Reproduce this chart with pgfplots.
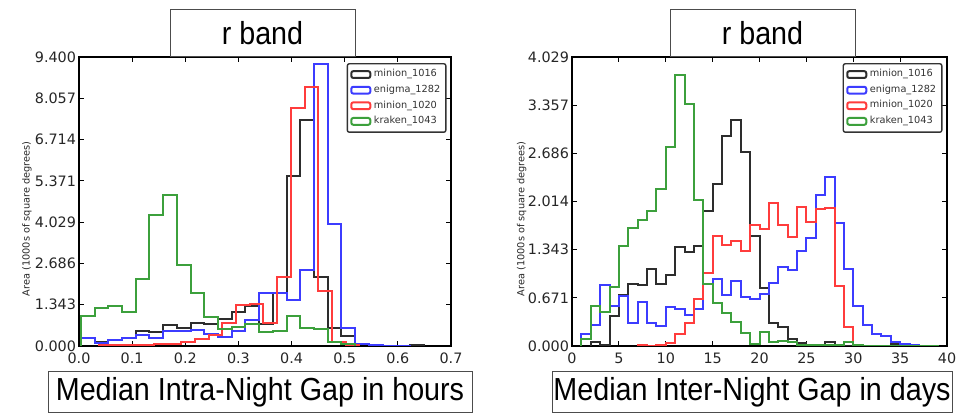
\documentclass[border=0pt]{standalone}
\usepackage{pgfplots}
\pgfplotsset{compat=1.18}
\usepackage{fontspec}
\setmainfont{DejaVu Sans}
\newfontfamily\boxfont{Liberation Sans}[FakeStretch=0.9]

\definecolor{hblack}{RGB}{45,45,45}
\definecolor{hblue}{RGB}{60,60,255}
\definecolor{hred}{RGB}{255,60,60}
\definecolor{hgreen}{RGB}{60,160,60}

\pgfplotsset{
  mpl/.style={
    scale only axis, anchor=south west,
    axis line style={line width=0.8bp},
    tick style={line width=0.6bp, black},
    major tick length=2.5bp,
    tick label style={font=\fontsize{7.2}{8.2}\selectfont, text=black!85},
    yticklabel style={xshift=2bp},
    label style={font=\fontsize{4.9}{5.8}\selectfont, text=black!85},
    /pgf/number format/assume math mode=true,
    ymin=0,
    legend style={at={(0.988,0.979)}, anchor=north east, draw=black!80,
      line width=0.7bp, rounded corners=1bp, inner sep=1.5bp,
      font=\fontsize{4.9}{5.7}\selectfont, text=black!80,
      nodes={inner sep=1.3bp}},
    legend cell align=left,
    legend image code/.code={\draw[#1] (0bp,-1.7bp) rectangle (9.5bp,1.7bp);},
    every axis plot/.append style={const plot, line width=1bp, mark=none},
  },
}

\begin{document}
\begin{tikzpicture}
\useasboundingbox (0,0) rectangle (482.5bp,206.5bp);

% ---- left: intra-night gap ----
\begin{axis}[mpl,
  at={(39.5bp,33.5bp)}, width=186bp, height=144.5bp,
  xmin=0, xmax=0.7, ymax=9.4,
  xtick={0,0.1,0.2,0.3,0.4,0.5,0.6,0.7},
  xticklabels={0.0,0.1,0.2,0.3,0.4,0.5,0.6,0.7},
  ytick={0,1.342857,2.685714,4.028571,5.371429,6.714286,8.057143,9.4},
  yticklabels={0.000,1.343,2.686,4.029,5.371,6.714,8.057,9.400},
  ylabel={Area (1000s of square degrees)},
  ylabel style={at={(axis description cs:-0.14,0.44)}, anchor=center},
]
\addplot[hblack] coordinates {
 (0.0035,0) (0.0035,0.27) (0.0293,0.14) (0.0551,0.19) (0.0809,0.27)
 (0.1067,0.49) (0.1325,0.45) (0.1583,0.68) (0.1841,0.60) (0.2099,0.76)
 (0.2357,0.73) (0.2615,0.87) (0.2873,1.12) (0.3131,1.31) (0.3389,0.73)
 (0.3647,1.71) (0.3905,5.52) (0.4163,7.35) (0.4421,2.25) (0.4679,0.58)
 (0.4937,0.33) (0.5195,0.05) (0.5453,0.01) (0.5711,0.01) (0.5969,0.01)
 (0.6227,0.03) (0.6485,0.03) (0.6485,0)};
\addlegendentry{minion\_1016}
\addplot[hblue] coordinates {
 (0.0035,0) (0.0035,0.25) (0.0293,0.11) (0.0551,0.20) (0.0809,0.27)
 (0.1067,0.35) (0.1325,0.27) (0.1583,0.49) (0.1841,0.49) (0.2099,0.52)
 (0.2357,0.38) (0.2615,0.30) (0.2873,0.49) (0.3131,0.85) (0.3389,1.71)
 (0.3647,1.71) (0.3905,1.50) (0.4163,2.48) (0.4421,9.18) (0.4679,3.98)
 (0.4937,0.58) (0.5195,0.08) (0.5453,0.03) (0.5711,0.01) (0.5969,0.01)
 (0.6227,0.01) (0.6227,0)};
\addlegendentry{enigma\_1282}
\addplot[hred] coordinates {
 (0.0375,0) (0.0375,0.03) (0.0633,0.03) (0.0891,0.03) (0.1149,0.04)
 (0.1407,0.06) (0.1665,0.07) (0.1923,0.12) (0.2181,0.22) (0.2439,0.35)
 (0.2697,0.75) (0.2955,1.34) (0.3213,1.36) (0.3471,0.76) (0.3729,2.25)
 (0.3987,7.73) (0.4245,8.41) (0.4503,1.78) (0.4761,0.14) (0.5019,0.02)
 (0.5277,0.02) (0.5277,0)};
\addlegendentry{minion\_1020}
\addplot[hgreen] coordinates {
 (0.0035,0) (0.0035,0.96) (0.0293,1.23) (0.0551,1.29) (0.0809,1.09)
 (0.1067,2.18) (0.1325,4.27) (0.1583,4.90) (0.1841,2.65) (0.2099,1.71)
 (0.2357,0.93) (0.2615,0.54) (0.2873,0.62) (0.3131,0.71) (0.3389,0.47)
 (0.3647,0.49) (0.3905,0.96) (0.4163,0.60) (0.4421,0.54) (0.4679,0.14)
 (0.4937,0.05) (0.5195,0.05) (0.5195,0)};
\addlegendentry{kraken\_1043}
\end{axis}

% ---- right: inter-night gap ----
\begin{axis}[mpl,
  at={(286bp,33.5bp)}, width=187.5bp, height=144.5bp,
  xmin=0, xmax=40, ymax=4.02857,
  xtick={0,5,10,15,20,25,30,35,40},
  ytick={0,0.67143,1.34286,2.01429,2.68571,3.35714,4.02857},
  yticklabels={0.000,0.671,1.343,2.014,2.686,3.357,4.029},
  ylabel={Area (1000s of square degrees)},
  ylabel style={at={(axis description cs:-0.134,0.44)}, anchor=center},
]
\addplot[hblack] coordinates {
 (2,0) (2,0.05) (3,0.02) (4,0.42) (5,0.71) (6,0.87) (7,0.85) (8,1.07)
 (9,0.87) (10,0.99) (11,1.38) (12,1.31) (13,1.40) (14,1.88) (15,2.26)
 (16,2.93) (17,3.15) (18,2.70) (19,1.53) (20,0.81) (21,0.32) (22,0.26)
 (23,0.10) (24,0.04) (25,0.02) (26,0.01) (27,0.05) (28,0.01) (29,0.005)
 (30,0.005) (31,0.005) (32,0.005) (33,0.005) (34,0.03) (35,0.03) (35,0)};
\addlegendentry{minion\_1016}
\addplot[hblue] coordinates {
 (1,0) (1,0.17) (2,0.29) (3,0.85) (4,0.56) (5,0.69) (6,0.32) (7,0.62)
 (8,0.32) (9,0.28) (10,0.55) (11,0.51) (12,0.43) (13,0.52) (14,0.87)
 (15,0.94) (16,0.71) (17,0.91) (18,0.68) (19,0.65) (20,0.72) (21,0.88)
 (22,1.10) (23,1.06) (24,1.33) (25,1.51) (26,2.10) (27,2.35) (28,1.71)
 (29,1.07) (30,0.56) (31,0.29) (32,0.17) (33,0.14) (34,0.05) (35,0.03)
 (36,0.01) (37,0.01) (37,0)};
\addlegendentry{enigma\_1282}
\addplot[hred] coordinates {
 (7,0) (7,0.02) (8,0.005) (9,0.01) (10,0.04) (11,0.17) (12,0.32) (13,0.66)
 (14,1.02) (15,1.53) (16,1.41) (17,1.47) (18,1.33) (19,1.68) (20,1.63)
 (21,2.00) (22,1.69) (23,1.52) (24,1.94) (25,1.73) (26,1.91) (27,1.93)
 (28,0.84) (29,0.27) (30,0.02) (31,0.02) (31,0)};
\addlegendentry{minion\_1020}
\addplot[hgreen] coordinates {
 (1,0) (1,0.10) (2,0.56) (3,0.47) (4,0.82) (5,1.40) (6,1.64) (7,1.76)
 (8,1.88) (9,2.19) (10,2.77) (11,3.78) (12,3.37) (13,2.03) (14,0.87)
 (15,0.60) (16,0.46) (17,0.33) (18,0.18) (19,0.03) (20,0.20) (21,0.05)
 (22,0.07) (23,0.05) (24,0.02) (25,0.01) (26,0.01) (27,0.01) (28,0.01)
 (29,0.06) (30,0.01) (31,0.005) (32,0.005) (33,0.005) (34,0.005)
 (35,0.005) (36,0.005) (37,0.005) (38,0.005) (39,0.005) (39,0)};
\addlegendentry{kraken\_1043}
\end{axis}

% ---- boxed titles and x labels ----
\tikzset{lbox/.style={draw=black!70, line width=0.5bp, inner sep=0pt,
  font=\boxfont\fontsize{16}{18}\selectfont}}
\node[lbox, minimum width=92.5bp, minimum height=23.5bp] at (131.25bp,189.75bp) {r band};
\node[lbox, minimum width=92.5bp, minimum height=23.5bp] at (381.25bp,189.75bp) {r band};
\node[lbox, minimum width=212bp, minimum height=20bp] at (130bp,10.5bp) {Median Intra-Night Gap in hours};
\node[lbox, minimum width=200bp, minimum height=20bp] at (376bp,10.5bp) {Median Inter-Night Gap in days};
\end{tikzpicture}
\end{document}
